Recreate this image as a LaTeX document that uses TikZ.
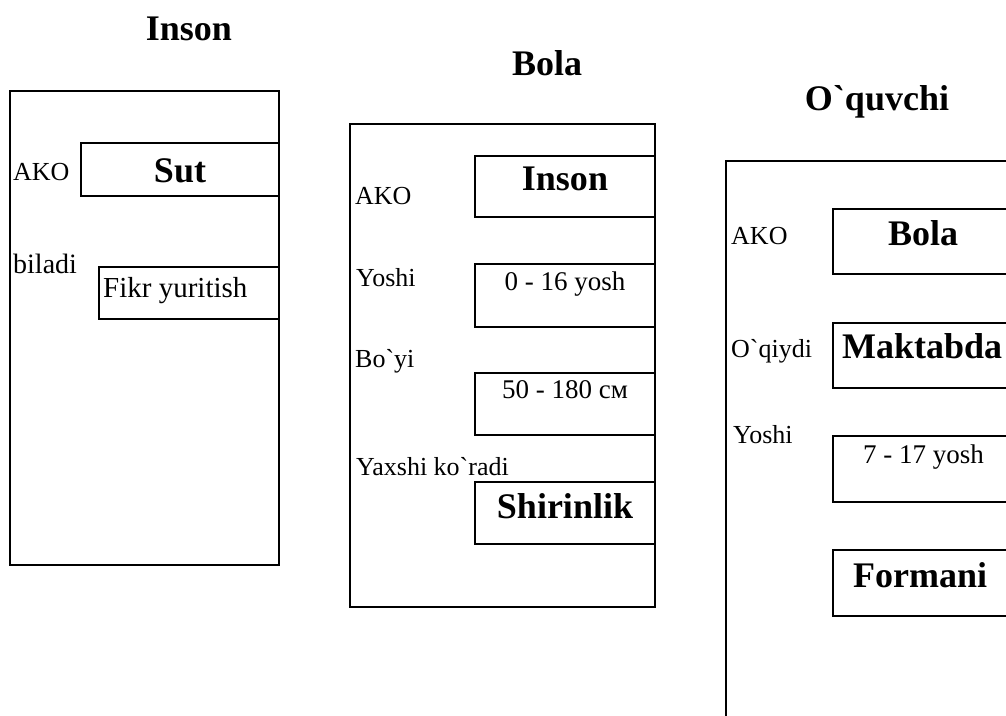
\documentclass[tikz,border=0pt]{standalone}
\usepackage{fontspec}
\setmainfont{Liberation Serif}[Ligatures=TeXOff]
\begin{document}
\begin{tikzpicture}[x=1pt,y=-1pt,
  frame/.style={draw=black,line width=1.6pt},
  slot/.style={draw=black,line width=2.4pt},
  title/.style={inner sep=0pt,anchor=base,font=\fontsize{36}{40}\selectfont\bfseries},
  val/.style={inner sep=0pt,anchor=base,font=\fontsize{36}{40}\selectfont\bfseries},
  valw/.style={inner sep=0pt,anchor=base west,font=\fontsize{36}{40}\selectfont\bfseries},
  num/.style={inner sep=0pt,anchor=base,font=\fontsize{27}{30}\selectfont},
  numw/.style={inner sep=0pt,anchor=base west,font=\fontsize{27}{30}\selectfont},
  lbl/.style={inner sep=0pt,anchor=base west,font=\fontsize{26}{30}\selectfont}]
\useasboundingbox (0,0) rectangle (1006,715);
\clip (0,0) rectangle (1006,715);

% ---- frame: Inson ----
\node[title] (t1) at (189,40) {Inson};
\draw[frame] (10,91) rectangle (279,565);
\draw[slot] (81,143) rectangle (279,196);
\draw[slot] (99,267) rectangle (279,319);
\node[lbl] (a1) at (13,180) {AKO};
\node[val] (v1) at (180,182) {Sut};
\node[lbl,font=\fontsize{28}{30}\selectfont] (a2) at (13,273) {biladi};
\node[lbl,font=\fontsize{29}{32}\selectfont] (v2) at (103,297) {Fikr yuritish};

% ---- frame: Bola ----
\node[title] (t2) at (547,75) {Bola};
\draw[frame] (350,124) rectangle (655,607);
\draw[slot] (475,156) rectangle (655,217);
\draw[slot] (475,264) rectangle (655,327);
\draw[slot] (475,373) rectangle (655,435);
\draw[slot] (475,482) rectangle (655,544);
\node[lbl] (b1) at (355,204) {AKO};
\node[lbl] (b2) at (356,286) {Yoshi};
\node[lbl] (b3) at (355,367) {Bo`yi};
\node[lbl] (b4) at (356,475) {Yaxshi ko`radi};
\node[val] (w1) at (565,190) {Inson};
\node[num] (w2) at (565,290) {0 - 16 yosh};
\node[num] (w3) at (565,398) {50 - 180 см};
\node[val] (w4) at (565,518) {Shirinlik};

% ---- frame: O`quvchi ----
\node[title] (t3) at (877,110) {O`quvchi};
\draw[frame] (726,161) rectangle (1012,740);
\draw[slot] (833,209) rectangle (1012,274);
\draw[slot] (833,323) rectangle (1012,388);
\draw[slot] (833,436) rectangle (1012,502);
\draw[slot] (833,550) rectangle (1012,616);
\node[lbl] (c1) at (731,244) {AKO};
\node[lbl] (c2) at (731,357) {O`qiydi};
\node[lbl] (c3) at (733,443) {Yoshi};
\node[valw] (u1) at (888,245) {Bola};
\node[valw] (u2) at (842,358) {Maktabda};
\node[numw] (u3) at (863,463) {7 - 17 yosh};
\node[valw] (u4) at (853,587) {Formani};
\end{tikzpicture}
\end{document}
